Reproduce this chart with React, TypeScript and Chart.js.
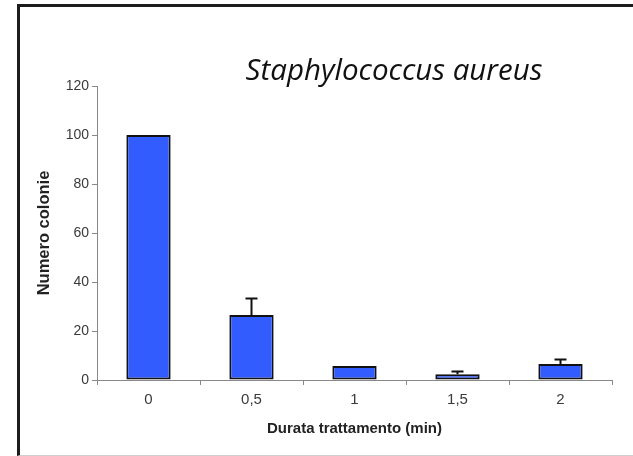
import React, { useEffect, useRef } from "react";
import { Chart, registerables } from "chart.js";

Chart.register(...registerables);

const categories = ["0", "0,5", "1", "1,5", "2"];
const colonies = [100, 26.5, 5.7, 2.3, 6.5];
const errors = [0, 6.8, 0, 1.2, 1.9];
const yTicks = [0, 20, 40, 60, 80, 100, 120];
const chartTitle = "Staphylococcus aureus";
const xTitle = "Durata trattamento (min)";
const yTitle = "Numero colonie";

const errorBarPlugin = {
  id: "errorBars",
  afterDatasetsDraw(chart: any) {
    const meta = chart.getDatasetMeta(0);
    const y = chart.scales.y;
    const ctx = chart.ctx;
    ctx.save();
    ctx.strokeStyle = "#111";
    ctx.lineWidth = 2;
    meta.data.forEach((bar: any, i: number) => {
      const err = errors[i];
      if (!err) return;
      const top = y.getPixelForValue(colonies[i]);
      const end = y.getPixelForValue(colonies[i] + err);
      ctx.beginPath();
      ctx.moveTo(bar.x, top);
      ctx.lineTo(bar.x, end);
      ctx.moveTo(bar.x - 6, end);
      ctx.lineTo(bar.x + 6, end);
      ctx.stroke();
    });
    ctx.restore();
  },
};

const titlePlugin = {
  id: "customTitle",
  afterDraw(chart: any) {
    const { ctx, chartArea } = chart;
    ctx.save();
    ctx.font = "italic 29.5px 'Open Sans'";
    ctx.fillStyle = "#111";
    ctx.textAlign = "center";
    ctx.textBaseline = "alphabetic";
    ctx.fillText(chartTitle, chartArea.left + 297, chartArea.top - 6);
    ctx.restore();
  },
};

export default function App() {
  const ref = useRef<HTMLCanvasElement>(null);
  useEffect(() => {
    if (!ref.current) return;
    const chart = new Chart(ref.current, {
      type: "bar",
      data: {
        labels: categories,
        datasets: [
          {
            data: colonies,
            backgroundColor: "#335CFF",
            borderColor: "#111",
            borderWidth: 2,
            borderSkipped: false,
            categoryPercentage: 1,
            barPercentage: 0.43,
          },
        ],
      },
      options: {
        animation: false,
        responsive: false,
        layout: { padding: { left: 0, top: 86, right: 21, bottom: 0 } },
        plugins: { legend: { display: false }, tooltip: { enabled: false }, title: { display: false } },
        scales: {
          x: {
            grid: { drawOnChartArea: false, drawTicks: true, tickLength: 5, color: "#888", offset: true },
            border: { display: true, color: "#888", width: 1 },
            ticks: { color: "#3a3a3a", font: { family: "'Liberation Sans', Arial", size: 15 }, padding: 6 },
            title: {
              display: true,
              text: xTitle,
              color: "#222",
              font: { family: "'Liberation Sans', Arial", size: 15, weight: "bold" },
              padding: { top: 0, bottom: 18 },
            },
            afterFit(scale: any) {
              scale.height = 76;
            },
          },
          y: {
            min: 0,
            max: 120,
            afterBuildTicks(scale: any) {
              scale.ticks = yTicks.map((v) => ({ value: v }));
            },
            grid: { drawOnChartArea: false, drawTicks: true, tickLength: 5, color: "#888" },
            border: { display: true, color: "#888", width: 1 },
            ticks: { color: "#3a3a3a", font: { family: "'Liberation Sans', Arial", size: 14 }, padding: 3 },
            title: {
              display: true,
              text: yTitle,
              color: "#222",
              font: { family: "'Liberation Sans', Arial", size: 16.5, weight: "bold" },
              padding: { top: 35, bottom: 0 },
            },
            afterFit(scale: any) {
              scale.width = 97;
            },
          },
        },
      },
      plugins: [errorBarPlugin, titlePlugin],
    } as any);
    return () => chart.destroy();
  }, []);

  return (
    <div
      style={{
        position: "fixed",
        left: 0,
        top: 0,
        width: 633,
        height: 456,
        background: "#fff",
        overflow: "hidden",
      }}
    >
      <div
        style={{
          position: "absolute",
          left: 17,
          top: 4,
          width: 640,
          height: 452,
          boxSizing: "border-box",
          borderLeft: "3px solid #1c1c1c",
          borderTop: "3px solid #1c1c1c",
          borderBottom: "1px solid #cfcfcf",
        }}
      />
      <canvas ref={ref} width={633} height={456} style={{ position: "absolute", left: 0, top: 0 }} />
    </div>
  );
}
